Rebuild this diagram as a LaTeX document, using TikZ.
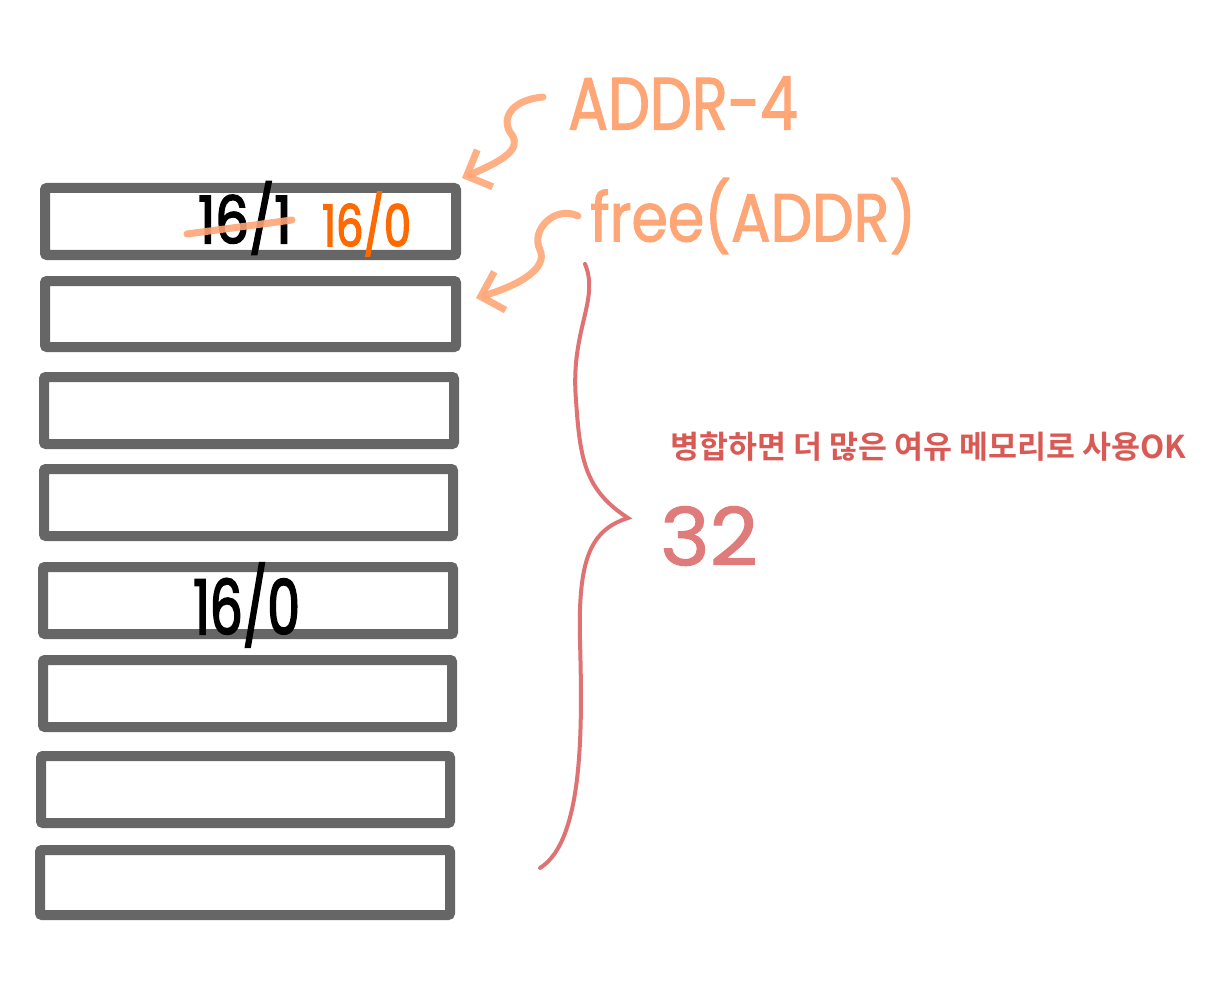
\documentclass[tikz,border=0pt]{standalone}
\usepackage{fontspec}
\setmainfont{Liberation Sans}
\newfontfamily\kofont{Noto Sans CJK KR}[BoldFont={* Bold}]
\newfontfamily\handfont[FakeStretch=0.62, FakeBold=2]{Poppins}
\newfontfamily\handlight[FakeStretch=0.8, FakeBold=1.5]{Poppins}
\newfontfamily\handwide[FakeStretch=1.05, FakeBold=1.5]{Poppins}
\usetikzlibrary{arrows.meta}
\definecolor{boxgray}{HTML}{666666}
\definecolor{peach}{HTML}{FFA677}
\definecolor{brick}{HTML}{D95A54}
\definecolor{rosebrace}{HTML}{DB6464}
\definecolor{vivid}{HTML}{FF6A00}
\tikzset{
  cell/.style={draw=boxgray, line width=10pt, rounded corners=2pt, inner sep=0pt, fill=white},
  squiggle/.style={draw=peach, line width=7pt, line cap=round, line join=round, opacity=0.9,
     -{Straight Barb[length=20pt, width=40pt, line width=7pt]}},
  handtxt/.style={inner sep=0pt, anchor=west},
}
\begin{document}
\begin{tikzpicture}[x=1pt,y=-1pt]
\useasboundingbox (0,0) rectangle (1209,1000);
% memory cells
\node[cell, minimum width=411pt, minimum height=67pt] (b1) at (250.5,221.5) {};
\node[cell, minimum width=411pt, minimum height=66pt] (b2) at (250.5,314) {};
\node[cell, minimum width=410pt, minimum height=67pt] (b3) at (249,410.5) {};
\node[cell, minimum width=409pt, minimum height=67pt] (b4) at (248.5,502.5) {};
\node[cell, minimum width=410pt, minimum height=67pt] (b5) at (248,600.5) {};
\node[cell, minimum width=409pt, minimum height=67pt] (b6) at (247.5,693.5) {};
\node[cell, minimum width=409pt, minimum height=67pt] (b7) at (245.5,789.5) {};
\node[cell, minimum width=410pt, minimum height=65pt] (b8) at (245,882.5) {};
% texts in cells
\node[handtxt, font=\handfont\fontsize{66}{66}\selectfont, xscale=1.3] (old) at (198,218) {16/1};
\node[handtxt, font=\handfont\fontsize{58}{58}\selectfont, text=vivid, xscale=1.2] (new) at (322,224) {16/0};
\node[handtxt, font=\handfont\fontsize{76}{76}\selectfont, xscale=1.1] (mid) at (193,605) {16/0};
\coordinate (s1) at (187,234);
\coordinate (s2) at (292,220);
\draw[peach, line width=7pt, line cap=round, opacity=0.9] (s1) -- (s2);
% labels
\node[handtxt, font=\handlight\fontsize{74}{74}\selectfont, text=peach] (addr) at (568,103) {ADDR-4};
\node[handtxt, font=\handlight\fontsize{68}{68}\selectfont, text=peach, xscale=1.08] (free) at (590,216) {free(ADDR)};
\coordinate (a1s) at (543,97);
\coordinate (a2s) at (578,216);
\draw[squiggle] (a1s) .. controls (510,100) and (500,120) .. (512,135)
   .. controls (522,150) and (500,162) .. (462,178);
\draw[squiggle] (a2s) .. controls (555,205) and (530,230) .. (540,250)
   .. controls (548,268) and (520,285) .. (476,298);
% brace
\coordinate (bt) at (585,264);
\coordinate (bm) at (628,518);
\coordinate (bb) at (540,868);
\draw[rosebrace, line width=4pt, line cap=round, opacity=0.9]
  (bt) .. controls (600,300) and (570,330) .. (576,400)
  .. controls (580,460) and (585,490) .. (bm)
  .. controls (590,530) and (578,560) .. (580,640)
  .. controls (582,720) and (585,840) .. (bb);
\node[handtxt, font=\handwide\fontsize{80}{80}\selectfont, text=rosebrace!85] (n32) at (660,536) {32};
\node[handtxt, font=\kofont\bfseries\fontsize{31.5}{31.5}\selectfont, text=brick] (note) at (670,447) {병합하면 더 많은 여유 메모리로 사용OK};
\end{tikzpicture}
\end{document}
